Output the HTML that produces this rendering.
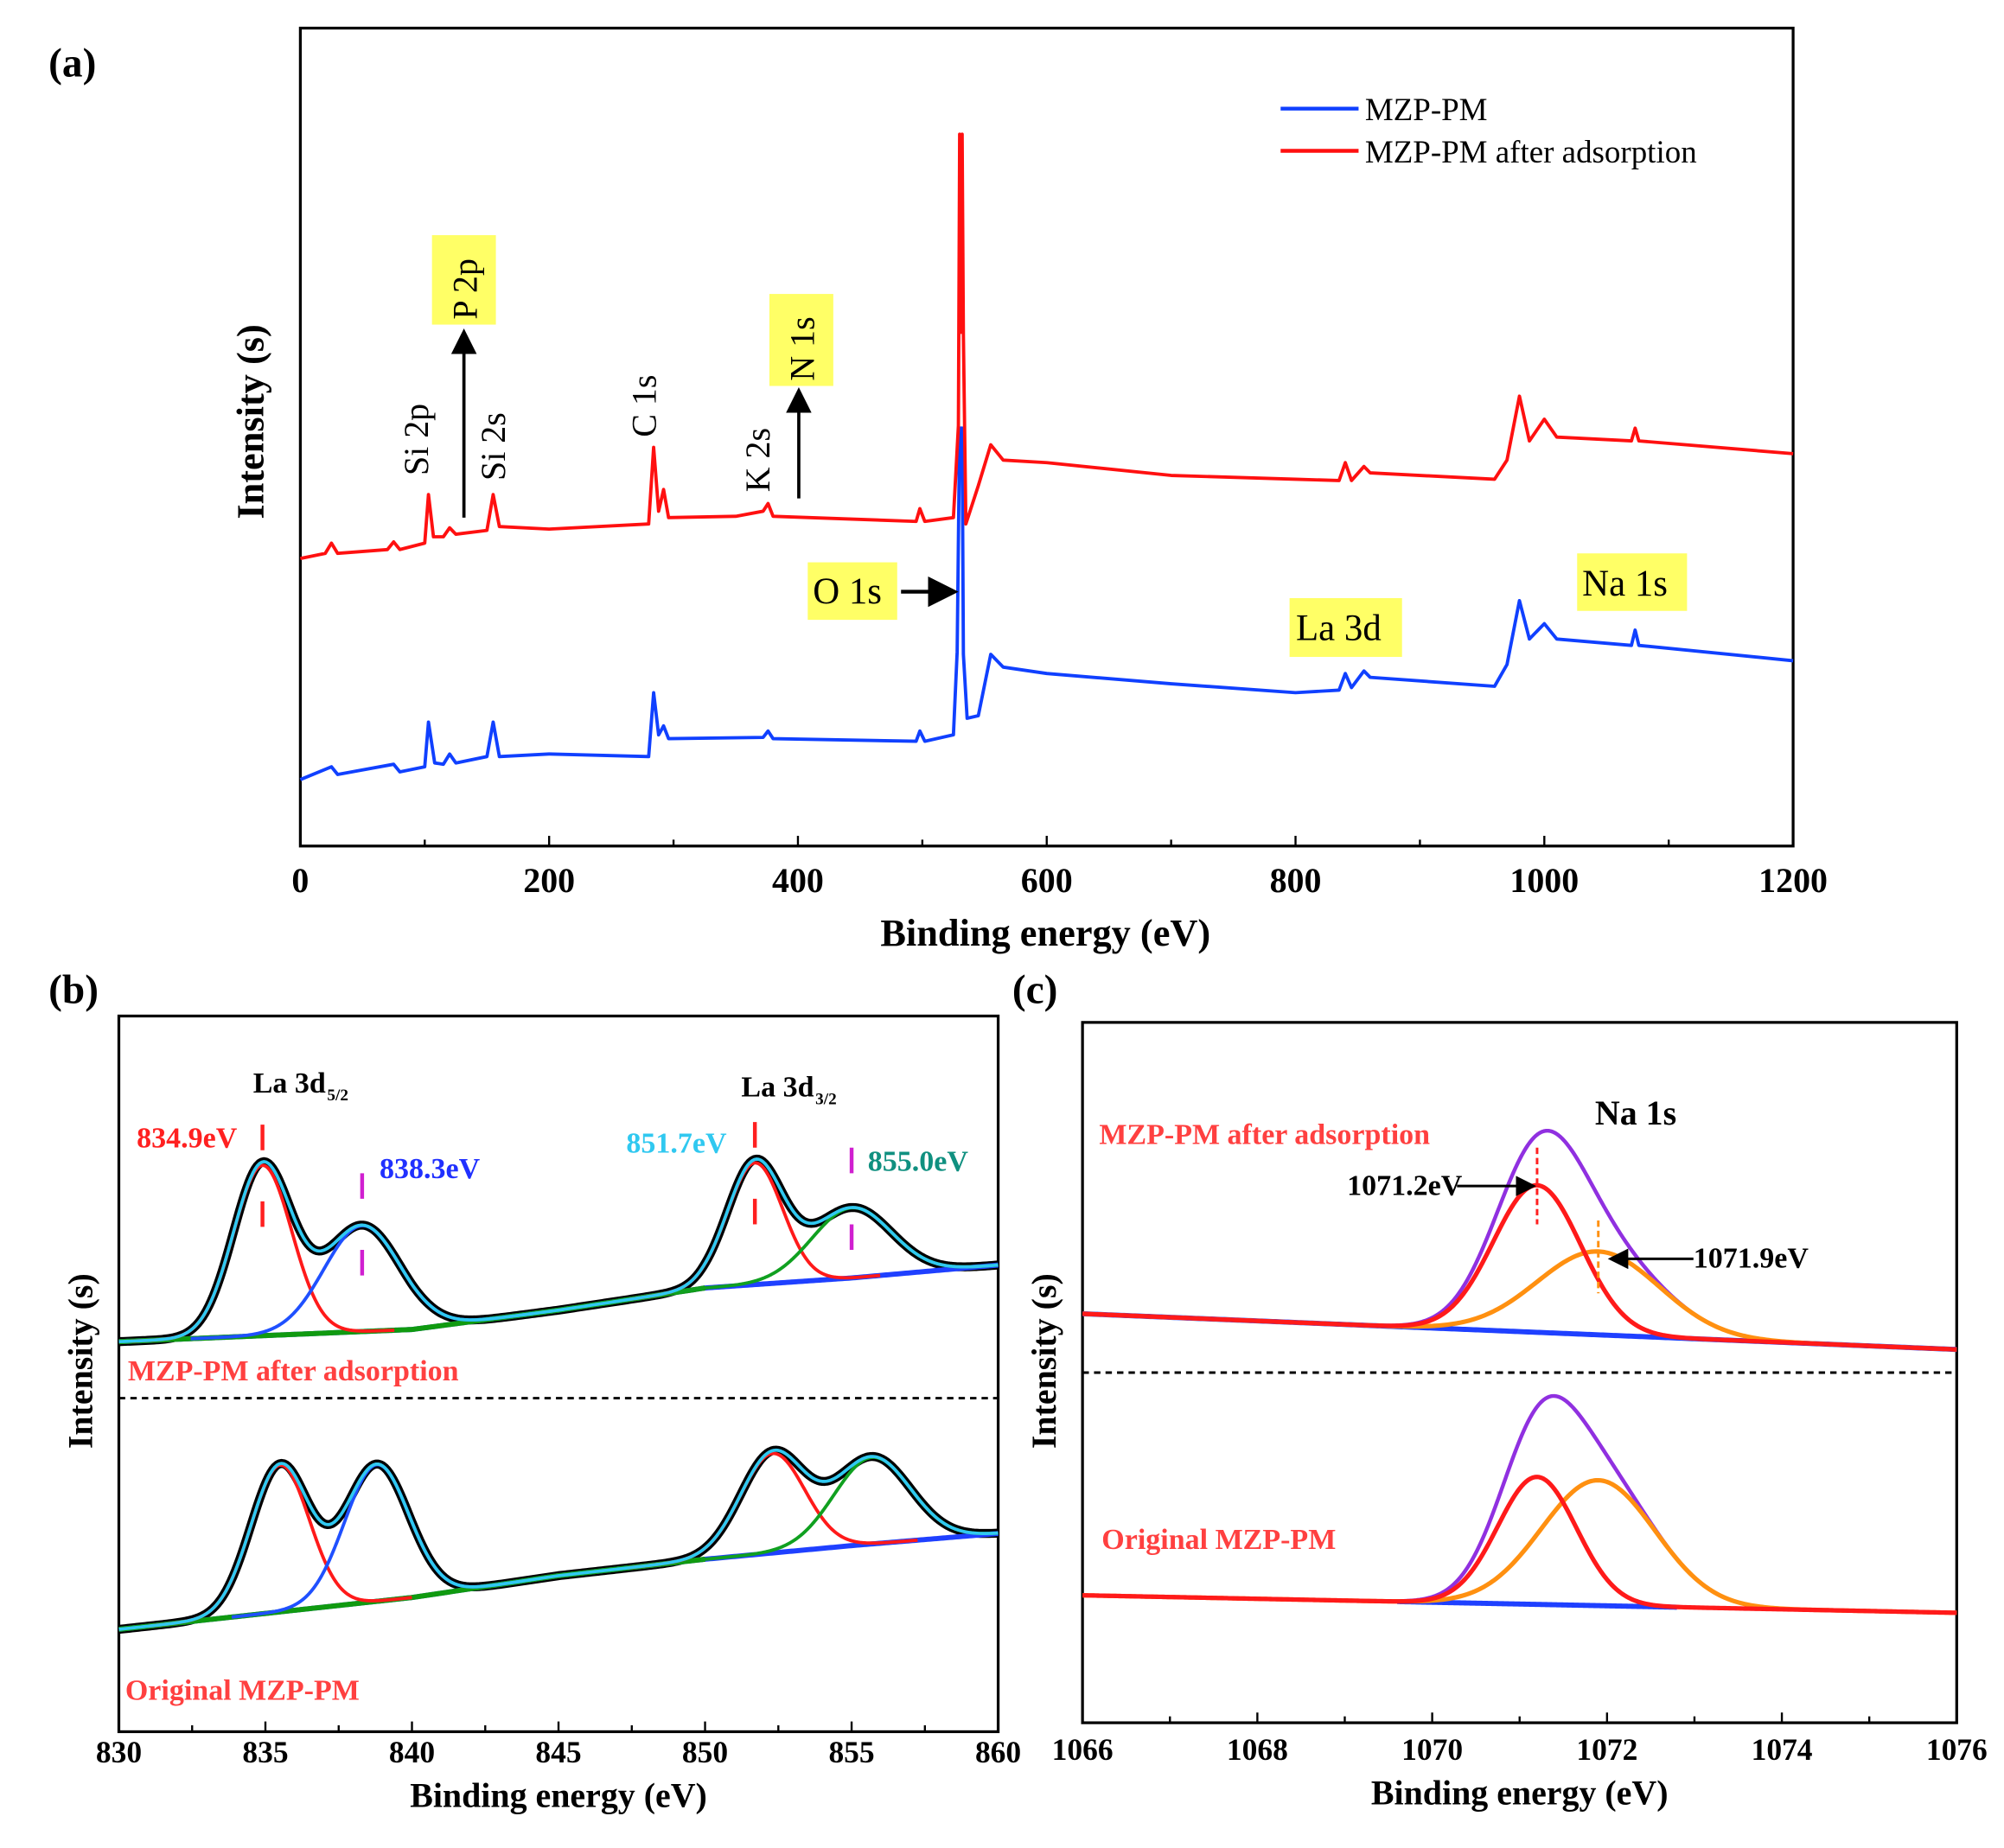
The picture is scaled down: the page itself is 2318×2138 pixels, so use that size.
<!DOCTYPE html>
<html><head><meta charset="utf-8"><style>
html,body{margin:0;padding:0;background:#fff}
svg{display:block}
text{font-family:"Liberation Serif",serif}
</style></head><body>
<svg id="fig" width="2318" height="2138" viewBox="0 0 1568 1446" preserveAspectRatio="none" xmlns="http://www.w3.org/2000/svg">
<defs><marker id="ah" markerWidth="8" markerHeight="8" refX="6" refY="4" orient="auto"><path d="M0,0 L8,4 L0,8 z" fill="#000"/></marker></defs>
<g id="pa"></g>
<g id="pb"></g>
<g id="pc"></g>
</svg>
<script>
// ---- Panel (a) survey data ----
const aRedE=[0,20,25,30,70,75,80,100,103,107,115,120,125,150,155,160,200,280,284,288,292,296,350,372,376,380,495,498,502,525,529,530,531,532,533,535,545,555,565,600,700,800,835,840,845,855,860,960,970,980,988,1000,1010,1070,1073,1076,1200];
const aRedI=[225,229,237,229,232,238,232,237,275,242,242,249,244,247,275,250,248,252,312,262,279,257,258,262,268,258,254,264,254,257,329,557,402,557,400,252,282,314,302,300,290,287,286,300,286,297,292,287,302,352,317,334,320,317,327,317,307];
const aBlueE=[0,25,30,75,80,100,103,108,115,120,125,150,155,160,200,280,284,288,292,296,372,376,380,495,498,502,525,528,530,532,533,536,545,555,565,600,700,800,835,840,845,855,860,960,970,980,988,1000,1010,1070,1073,1076,1200];
const aBlueI=[52,62,56,64,58,62,97,65,64,72,65,70,97,70,72,70,120,87,94,84,85,90,84,82,90,82,87,152,327,327,150,100,102,150,140,135,127,120,122,135,124,137,132,125,142,192,162,174,162,157,169,157,145];
const aTicks=[0,200,400,600,800,1000,1200];
// ---- Panel (b) La 3d fits ----
const bBgE=[830,840,845,850,855,860];
const bUpBg=[54.5,56.2,58.9,62,63.4,65.2];
const bLoBg=[14.3,18.75,21.8,24.1,26,27.7];
const bUpCenters=[834.9,838.3,851.7,855.0];
const bUpAmps=[23.8,14.8,17,9.8];
const bUpSig=[1.0,1.3,0.95,1.35];
const bLoCenters=[835.5,838.8,852.3,855.7];
const bLoAmps=[20.5,19.1,13.9,12.1];
const bLoSig=[1.0,1.1,1.1,1.3];
const bTicks=[830,835,840,845,850,855,860];
// ---- Panel (c) Na 1s fits ----
const cUpBg=[58.4,53.3];
const cLoBg=[18.2,15.7];
const cUpCenters=[1071.2,1071.9];
const cUpAmps=[21,11.9];
const cUpSig=[0.5,0.7];
const cLoCenters=[1071.2,1071.9];
const cLoAmps=[18.2,17.9];
const cLoSig=[0.45,0.65];
const cTicks=[1066,1068,1070,1072,1074,1076];

const NS="http://www.w3.org/2000/svg";
function mk(p,tag,attrs,txt){const e=document.createElementNS(NS,tag);for(const k in attrs)e.setAttribute(k,attrs[k]);if(txt!==undefined)e.textContent=txt;p.appendChild(e);return e;}
function lin(d0,d1,r0,r1){return v=>r0+(v-d0)/(d1-d0)*(r1-r0);}
function interp(xs,ys,x){if(x<=xs[0])return ys[0];for(let i=1;i<xs.length;i++){if(x<=xs[i]){const t=(x-xs[i-1])/(xs[i]-xs[i-1]);return ys[i-1]+t*(ys[i]-ys[i-1]);}}return ys[ys.length-1];}
function gauss(x,c,a,s){return a*Math.exp(-(x-c)*(x-c)/(2*s*s));}
function pathFrom(fn,x0,x1,sx,sy,n){let d="";for(let i=0;i<=n;i++){const x=x0+(x1-x0)*i/n;d+=(i?"L":"M")+sx(x).toFixed(2)+","+sy(fn(x)).toFixed(2);}return d;}

function axesBox(g,x0,y0,x1,y1,ticks,minorStep,sx,fs,off){
  const b=mk(g,"rect",{x:x0,y:y0,width:x1-x0,height:y1-y0,fill:"none",stroke:"#000","stroke-width":2.2});
  
  
  const t0=ticks[0],t1=ticks[ticks.length-1];
  for(let v=t0;v<=t1+1e-9;v+=minorStep){const isMaj=ticks.some(t=>Math.abs(t-v)<1e-9);
    mk(g,"line",{x1:sx(v),x2:sx(v),y1:y1,y2:y1-(isMaj?8:5),stroke:"#000","stroke-width":1.6});}
  ticks.forEach(t=>{const tl=mk(g,"text",{x:sx(t),y:y1+off,"text-anchor":"middle","font-size":fs,"font-weight":"bold"},String(t));
    
    });
}
function label(g,name,x,y,txt,attrs){const a=Object.assign({x:x,y:y},attrs||{});const t=mk(g,"text",a,txt);
  
  return t;}

// ===== Panel a =====
(function(){
const g=document.getElementById("pa");
const sx=lin(0,1200,235,1403), sy=lin(0,640,662,22);
axesBox(g,235,22,1403,662,aTicks,100,sx,27,36);
label(g,'panel-a-letter',38,60,"(a)",{"font-size":32,"font-weight":"bold"});
label(g,'x-axis-title',818,740,"Binding energy (eV)",{"font-size":30,"font-weight":"bold","text-anchor":"middle"});
label(g,'y-axis-title',206,330,"Intensity (s)",{"font-size":30,"font-weight":"bold","text-anchor":"middle",transform:"rotate(-90 206 330)"});
function ser(E,I,col,name){let d="";E.forEach((e,i)=>{d+=(i?"L":"M")+sx(e).toFixed(2)+","+sy(I[i]).toFixed(2);});
  const p=mk(g,"path",{d:d,fill:"none",stroke:col,"stroke-width":2.6,"stroke-linejoin":"round"});
  
  }
ser(aBlueE,aBlueI,"#1040ff","series-mzp-pm");
ser(aRedE,aRedI,"#ff1010","series-after-adsorption");
mk(g,"line",{x1:1002,x2:1063,y1:85,y2:85,stroke:"#1040ff","stroke-width":3});
label(g,'legend-entry-mzp-pm',1068,94,"MZP-PM",{"font-size":25});
mk(g,"line",{x1:1002,x2:1063,y1:118,y2:118,stroke:"#ff1010","stroke-width":3});
label(g,'legend-entry-after-adsorption',1068,127,"MZP-PM after adsorption",{"font-size":25});
const rot=(name,x,y,t)=>label(g,name,x,y,t,{"font-size":27,transform:`rotate(-90 ${x} ${y})`});
rot('label-si-2p',335,372,"Si 2p");
rot('label-si-2s',395,376,"Si 2s");
rot('label-c-1s',513,342,"C 1s");
rot('label-k-2s',602,385,"K 2s");
const box=(name,x,y,w,h)=>{const r=mk(g,"rect",{x:x,y:y,width:w,height:h,fill:"#ffff66"});};
box('p2p-box',338,184,50,70); rot('label-p-2p',373,250,"P 2p");
box('n1s-box',602,230,50,72); rot('label-n-1s',637,298,"N 1s");
box('o1s-box',632,440,70,45); label(g,'label-o-1s',636,472,"O 1s",{"font-size":29});
box('la3d-box',1009,468,88,46); label(g,'label-la-3d',1014,501,"La 3d",{"font-size":29});
box('na1s-box',1234,433,86,45); label(g,'label-na-1s',1238,466,"Na 1s",{"font-size":29});
mk(g,"line",{x1:363,y1:405,x2:363,y2:262,stroke:"#000","stroke-width":2.5,"marker-end":"url(#ah)"});
mk(g,"line",{x1:625,y1:390,x2:625,y2:308,stroke:"#000","stroke-width":2.5,"marker-end":"url(#ah)"});
mk(g,"line",{x1:705,y1:463,x2:744,y2:463,stroke:"#000","stroke-width":3,"marker-end":"url(#ah)"});
})();

// ===== Panel b =====
(function(){
const g=document.getElementById("pb");
const sx=lin(830,860,93,781), sy=lin(0,100,1355,795);
axesBox(g,93,795,781,1355,bTicks,2.5,sx,24,24);
label(g,'panel-b-letter',38,785,"(b)",{"font-size":32,"font-weight":"bold"});
label(g,'x-axis-title',437,1414,"Binding energy (eV)",{"font-size":27,"font-weight":"bold","text-anchor":"middle"});
label(g,'y-axis-title',72,1065,"Intensity (s)",{"font-size":27,"font-weight":"bold","text-anchor":"middle",transform:"rotate(-90 72 1065)"});
mk(g,"line",{x1:93,x2:781,y1:1094,y2:1094,stroke:"#000","stroke-width":2,"stroke-dasharray":"5,4"});
function block(bg,C,A,S,tag){
  const base=x=>interp(bBgE,bg,x);
  const sum=x=>base(x)+C.reduce((s,c,i)=>s+gauss(x,c,A[i],S[i]),0);
  const add=(fn,col,w,name,x0,x1)=>{const p=mk(g,"path",{d:pathFrom(fn,x0,x1,sx,sy,400),fill:"none",stroke:col,"stroke-width":w,"stroke-linejoin":"round"});
    
    };
  add(sum,"#000",7,tag+'-raw-data',830,860);
  add(base,"#1f40ff",4,tag+'-background',830,860);
  add(base,"#109a10",4,tag+'-background-green',830,850);
  const cols=["#ff1a1a","#1f50ff","#ff1a1a","#10a020"];
  C.forEach((c,i)=>add(x=>base(x)+gauss(x,c,A[i],S[i]),cols[i],2.6,tag+'-component-'+i,c-4.5*S[i],Math.min(860,c+4.5*S[i])));
  add(sum,"#30c8f0",2.5,tag+'-envelope',830,860);
}
block(bUpBg,bUpCenters,bUpAmps,bUpSig,'after');
block(bLoBg,bLoCenters,bLoAmps,bLoSig,'original');
label(g,'la3d52-label',198,855,"La 3d",{"font-size":23,"font-weight":"bold"});
label(g,'la3d52-sub',256,861,"5/2",{"font-size":13,"font-weight":"bold"});
label(g,'la3d32-label',580,858,"La 3d",{"font-size":23,"font-weight":"bold"});
label(g,'la3d32-sub',638,864,"3/2",{"font-size":13,"font-weight":"bold"});
label(g,'peak-834-9',107,898,"834.9eV",{"font-size":23,"font-weight":"bold",fill:"#ff2020"});
label(g,'peak-838-3',297,922,"838.3eV",{"font-size":23,"font-weight":"bold",fill:"#2030ff"});
label(g,'peak-851-7',490,902,"851.7eV",{"font-size":23,"font-weight":"bold",fill:"#30c8f0"});
label(g,'peak-855-0',679,916,"855.0eV",{"font-size":23,"font-weight":"bold",fill:"#109080"});
const dash=(x,y0,y1,c)=>mk(g,"line",{x1:x,x2:x,y1:y0,y2:y1,stroke:c,"stroke-width":3,"stroke-dasharray":"20,40"});
dash(sx(834.9),880,966,"#ff2020");dash(sx(838.3),918,1000,"#d020d0");
dash(sx(851.7),878,962,"#ff2020");dash(sx(855.0),898,985,"#d020d0");
label(g,'after-adsorption-label',100,1080,"MZP-PM after adsorption",{"font-size":23,"font-weight":"bold",fill:"#ff4040"});
label(g,'original-label',98,1330,"Original MZP-PM",{"font-size":23,"font-weight":"bold",fill:"#ff4040"});
})();

// ===== Panel c =====
(function(){
const g=document.getElementById("pc");
const sx=lin(1066,1076,847,1531), sy=lin(0,100,1348,800);
axesBox(g,847,800,1531,1348,cTicks,1,sx,24,29);
label(g,'panel-c-letter',792,785,"(c)",{"font-size":32,"font-weight":"bold"});
label(g,'x-axis-title',1189,1412,"Binding energy (eV)",{"font-size":27,"font-weight":"bold","text-anchor":"middle"});
label(g,'y-axis-title',826,1065,"Intensity (s)",{"font-size":27,"font-weight":"bold","text-anchor":"middle",transform:"rotate(-90 826 1065)"});
mk(g,"line",{x1:847,x2:1531,y1:1074,y2:1074,stroke:"#000","stroke-width":2,"stroke-dasharray":"5,4"});
function block(bg,C,A,S,tag,bx0,bx1){
  const base=x=>interp([1066,1076],bg,x);
  const add=(fn,col,w,name,x0,x1)=>{const p=mk(g,"path",{d:pathFrom(fn,x0,x1,sx,sy,400),fill:"none",stroke:col,"stroke-width":w,"stroke-linejoin":"round"});
    
    };
  add(base,"#1f40ff",4,tag+'-background',bx0,bx1);
  add(x=>base(x)+gauss(x,C[0],A[0],S[0])+gauss(x,C[1],A[1],S[1]),"#9030e0",3,tag+'-envelope',1069.3,1074.5);
  add(x=>base(x)+gauss(x,C[1],A[1],S[1]),"#ff9010",3.5,tag+'-component-1071-9',1066,1076);
  add(x=>base(x)+gauss(x,C[0],A[0],S[0]),"#ff1a1a",3.5,tag+'-component-1071-2',1066,1076);
}
block(cUpBg,cUpCenters,cUpAmps,cUpSig,'after',1066,1076);
block(cLoBg,cLoCenters,cLoAmps,cLoSig,'original',1069.6,1072.8);
label(g,'na1s-title',1248,880,"Na 1s",{"font-size":27,"font-weight":"bold"});
label(g,'after-adsorption-label',860,895,"MZP-PM after adsorption",{"font-size":23,"font-weight":"bold",fill:"#ff4040"});
label(g,'original-label',862,1212,"Original MZP-PM",{"font-size":23,"font-weight":"bold",fill:"#ff4040"});
label(g,'peak-1071-2',1054,935,"1071.2eV",{"font-size":23,"font-weight":"bold"});
label(g,'peak-1071-9',1325,992,"1071.9eV",{"font-size":23,"font-weight":"bold"});
mk(g,"line",{x1:1140,y1:928,x2:1198,y2:928,stroke:"#000","stroke-width":2,"marker-end":"url(#ah)"});
mk(g,"line",{x1:1325,y1:985,x2:1262,y2:985,stroke:"#000","stroke-width":2,"marker-end":"url(#ah)"});
mk(g,"line",{x1:sx(1071.2),x2:sx(1071.2),y1:898,y2:958,stroke:"#ff2020","stroke-width":2,"stroke-dasharray":"5,3"});
mk(g,"line",{x1:sx(1071.9),x2:sx(1071.9),y1:955,y2:1012,stroke:"#ff9010","stroke-width":2,"stroke-dasharray":"5,3"});
})();
</script>
</body></html>
